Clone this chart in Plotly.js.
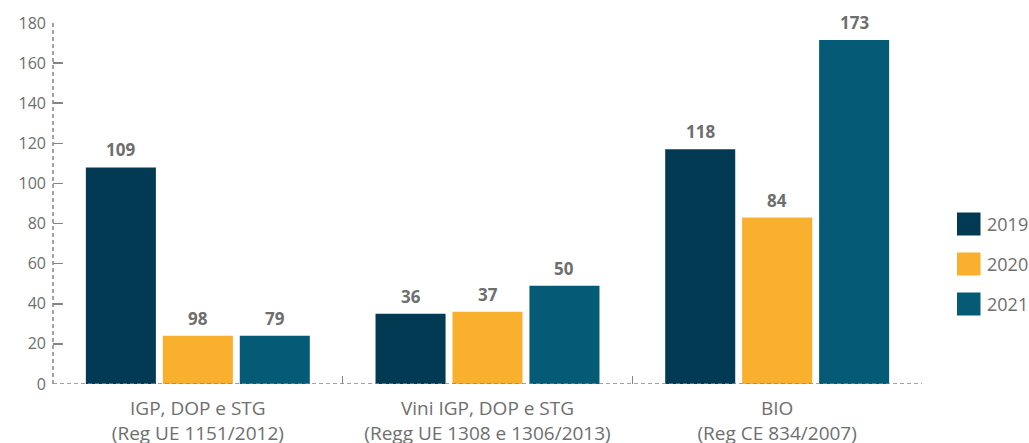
<!DOCTYPE html>
<html><head><meta charset="utf-8">
<script src="https://cdn.plot.ly/plotly-3.0.1.min.js"></script>
<style>html,body{margin:0;padding:0;background:#fff}#chart{width:1029px;height:443px}</style>
</head><body><div id="chart"></div>
<script>
// ---- data ----
const categories = [
  'IGP, DOP e STG<br>(Reg UE 1151/2012)',
  'Vini IGP, DOP e STG<br>(Regg UE 1308 e 1306/2013)',
  'BIO<br>(Reg CE 834/2007)'
];
const years = ['2019', '2020', '2021'];
// bar heights as drawn in the picture
const values2019 = [108, 35, 117];
const values2020 = [24, 36, 83];
const values2021 = [24, 49, 171.5];
// value labels as printed
const labels2019 = ['109', '36', '118'];
const labels2020 = ['98', '37', '84'];
const labels2021 = ['79', '50', '173'];
const yTicks = [0, 20, 40, 60, 80, 100, 120, 140, 160, 180];

// ---- style ----
const colors = ['#023a53', '#f9b02e', '#055a76'];
const FONT = 'Open Sans, sans-serif';
const GREY = '#6e6e6e';
const AXIS = '#858585';
const W = 1029, H = 443;
const M = {l: 53, r: 107, t: 23, b: 59};
const bargap = 0.203, bargroupgap = 0.09;

const series = [values2019, values2020, values2021];
const labels = [labels2019, labels2020, labels2021];

const traces = series.map((vals, j) => ({
  type: 'bar', name: years[j], x: categories, y: vals,
  marker: {color: colors[j]}, hoverinfo: 'none', showlegend: false
}));

const slot = (1 - bargap) / series.length;
const annotations = [];
series.forEach((vals, j) => {
  vals.forEach((v, i) => {
    annotations.push({
      xref: 'x', yref: 'y', x: i + (j - (series.length - 1) / 2) * slot, y: v,
      text: labels[j][i], showarrow: false, yanchor: 'bottom', yshift: 4,
      font: {family: FONT, size: 17, color: GREY, weight: 'bold'}
    });
  });
});

// legend built from years/colors
const pw = W - M.l - M.r, ph = H - M.t - M.b;
const px2x = p => (p - M.l) / pw;
const py2y = p => (H - M.b - p) / ph;
const shapes = [
  {type: 'line', xref: 'paper', yref: 'y', x0: 0, x1: 1, y0: 0, y1: 0, layer: 'above',
   line: {color: AXIS, width: 1.5, dash: '4px,3px'}},
  {type: 'line', xref: 'paper', yref: 'paper', x0: 0, x1: 0, y0: 0, y1: 1, layer: 'above',
   line: {color: AXIS, width: 1.5, dash: '4px,3px'}}
];
years.forEach((yr, j) => {
  const cy = 224 + j * 40;
  shapes.push({type: 'rect', xref: 'paper', yref: 'paper',
    x0: px2x(957), x1: px2x(980.5), y0: py2y(cy + 11.5), y1: py2y(cy - 11.5),
    fillcolor: colors[j], line: {width: 0}});
  annotations.push({xref: 'paper', yref: 'paper', x: px2x(985), y: py2y(cy),
    xanchor: 'left', yanchor: 'middle', showarrow: false, text: yr,
    font: {family: FONT, size: 18, color: GREY}});
});

const layout = {
  width: W, height: H, margin: M,
  paper_bgcolor: '#fff', plot_bgcolor: '#fff',
  barmode: 'group', bargap: bargap, bargroupgap: bargroupgap,
  showlegend: false,
  font: {family: FONT, color: GREY},
  xaxis: {
    type: 'category', range: [-0.5, 2.5], showline: false, showgrid: false, zeroline: false,
    ticks: 'inside', tickson: 'boundaries', ticklen: 8, tickwidth: 1.5, tickcolor: AXIS,
    tickfont: {family: FONT, size: 19, color: GREY}, ticklabelstandoff: 11
  },
  yaxis: {
    range: [0, 180], tickvals: yTicks, showline: false, showgrid: false, zeroline: false,
    ticks: 'inside', ticklen: 10, tickwidth: 1.5, tickcolor: AXIS,
    tickfont: {family: FONT, size: 16, color: GREY}, ticklabelstandoff: 6
  },
  shapes: shapes,
  annotations: annotations
};

Plotly.newPlot('chart', traces, layout, {staticPlot: true, displayModeBar: false});
</script>
</body></html>
